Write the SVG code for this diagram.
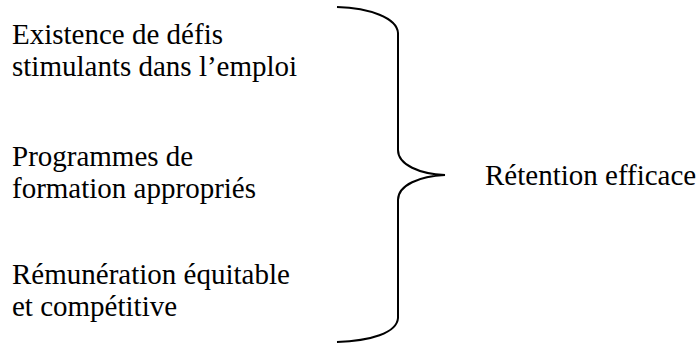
<svg xmlns="http://www.w3.org/2000/svg" width="700" height="343" viewBox="0 0 700 343">
<style>
text{font-family:"Liberation Serif","Times New Roman",serif;font-size:29px;fill:#000}
.brace{fill:none;stroke:#000;stroke-width:2}
</style>
<rect width="700" height="343" fill="#fff"/>
<g id="factor1"><text x="12" y="44">Existence de défis</text><text x="12" y="76">stimulants dans l’emploi</text></g>
<g id="factor2"><text x="12" y="166">Programmes de</text><text x="12" y="198">formation appropriés</text></g>
<g id="factor3"><text x="12" y="284">Rémunération équitable</text><text x="12" y="316">et compétitive</text></g>
<g id="result"><text x="485" y="185">Rétention efficace</text></g>
<g id="connectors"><path class="brace" d="M337,7 C370,8 397,18 398,33 L398,150 C398,165 420,174 445,175 C420,176 398,185 398,200 L398,318 C397,333 370,341 337,342"/></g>
</svg>
